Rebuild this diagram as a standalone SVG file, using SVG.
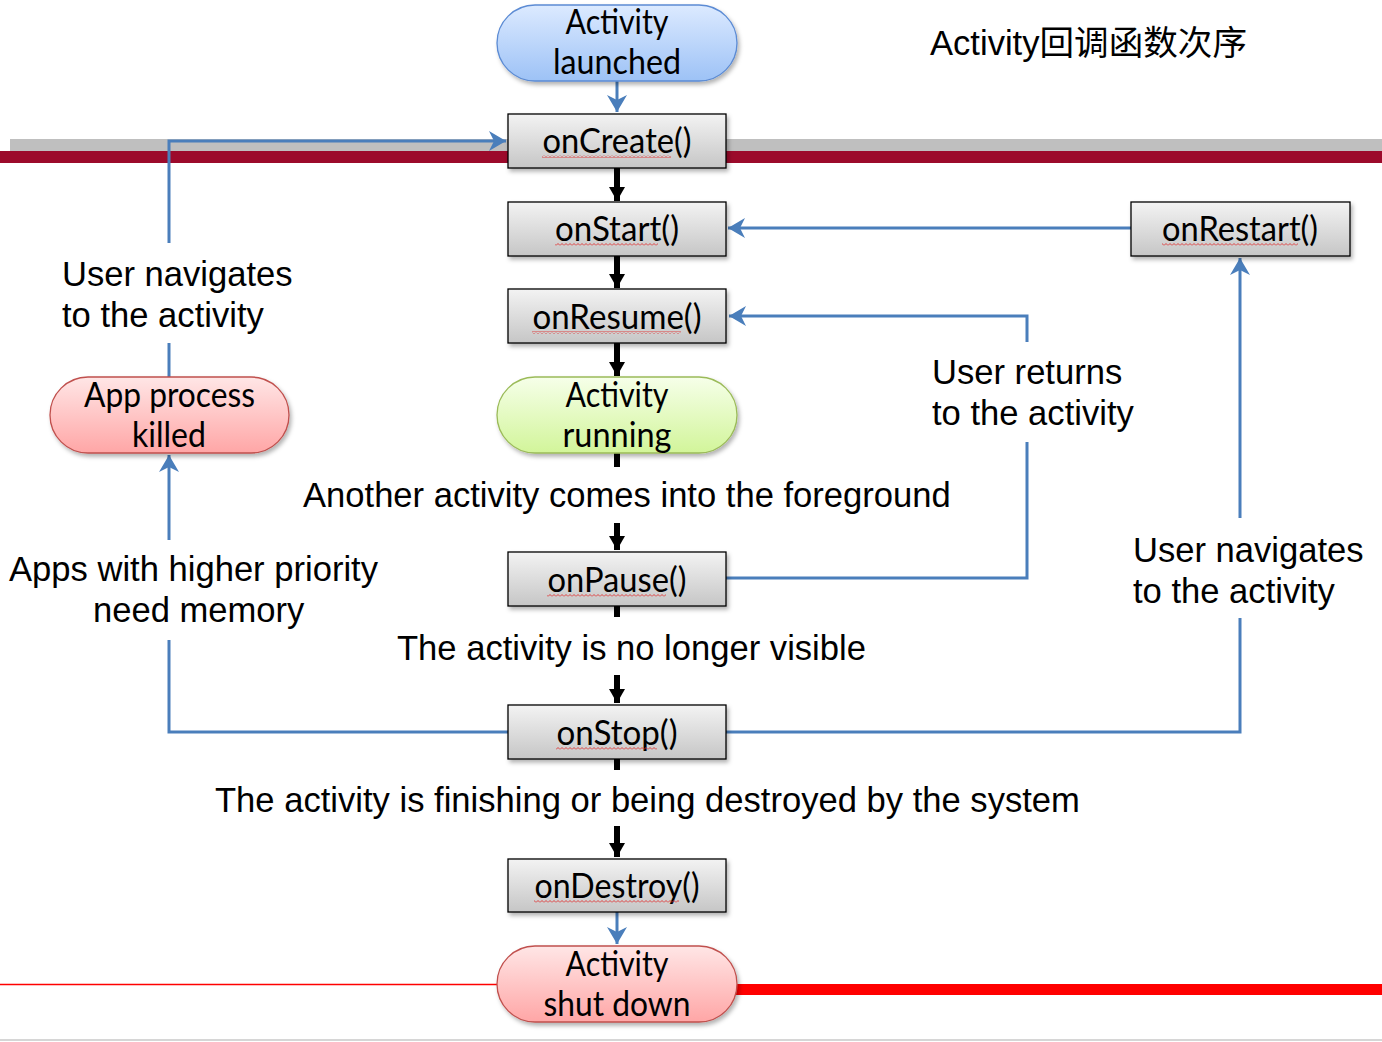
<svg xmlns="http://www.w3.org/2000/svg" width="1382" height="1042" viewBox="0 0 1382 1042">
<style>
.box{stroke:#000;stroke-width:1.3;fill:url(#gGray);filter:url(#sh)}
.pill{stroke-width:1.3;filter:url(#sh)}
.nt{font-family:Lato,"Open Sans",sans-serif;font-size:34px;fill:#000;text-anchor:middle}
.lt{font-family:"Liberation Sans",Arial,sans-serif;font-size:34.6px;fill:#000}
.blue{fill:none;stroke:#4A7EBB;stroke-width:3}
.blk{fill:none;stroke:#000;stroke-width:6}
.wavy{fill:url(#wv)}
</style>
<defs>
<linearGradient id="gGray" x1="0" y1="0" x2="0" y2="1"><stop offset="0" stop-color="#F3F3F3"/><stop offset="1" stop-color="#C6C6C6"/></linearGradient>
<linearGradient id="gBlue" x1="0" y1="0" x2="0" y2="1"><stop offset="0" stop-color="#DCEAFF"/><stop offset="1" stop-color="#9DC2F6"/></linearGradient>
<linearGradient id="gGreen" x1="0" y1="0" x2="0" y2="1"><stop offset="0" stop-color="#F6FFE9"/><stop offset="1" stop-color="#D2F59A"/></linearGradient>
<linearGradient id="gRed" x1="0" y1="0" x2="0" y2="1"><stop offset="0" stop-color="#FFE6E6"/><stop offset="1" stop-color="#FFA6A6"/></linearGradient>
<filter id="sh" x="-10%" y="-20%" width="125%" height="150%"><feDropShadow dx="2" dy="3" stdDeviation="2" flood-color="#000" flood-opacity="0.3"/></filter>
<pattern id="wv" width="4" height="3" patternUnits="userSpaceOnUse"><path d="M0,2.5 L2,0.5 L4,2.5" fill="none" stroke="#E03030" stroke-width="0.9"/></pattern>
<marker id="ab" markerUnits="userSpaceOnUse" viewBox="0 0 17 20" refX="17" refY="10" markerWidth="17" markerHeight="20" orient="auto"><path d="M0,0 L17,10 L0,20 L5,10 Z" fill="#4A7EBB"/></marker>
<marker id="ak" markerUnits="userSpaceOnUse" viewBox="0 0 14 16" refX="14" refY="8" markerWidth="14" markerHeight="16" orient="auto"><path d="M0,0 L14,8 L0,16 Z" fill="#000"/></marker>
</defs>
<rect width="1382" height="1042" fill="#fff"/>
<g id="bars">
<rect x="10" y="139" width="1372" height="12" fill="#BFBFBF"/>
<rect x="0" y="151" width="1382" height="12" fill="#9C0A2B"/>
<line x1="0" y1="984.5" x2="500" y2="984.5" stroke="#FF0000" stroke-width="1.5"/>
<rect x="735" y="984" width="647" height="11" fill="#FF0000"/>
<line x1="0" y1="1040" x2="1382" y2="1040" stroke="#C8C8C8" stroke-width="1.5"/>
</g>
<g id="connectors">
<path class="blue" d="M617,81 V112" marker-end="url(#ab)"/>
<path class="blue" d="M617,912 V944" marker-end="url(#ab)"/>
<path class="blk" d="M617,168 V201" marker-end="url(#ak)"/>
<path class="blk" d="M617,256 V288" marker-end="url(#ak)"/>
<path class="blk" d="M617,343 V376" marker-end="url(#ak)"/>
<path class="blk" d="M617,453 V467"/>
<path class="blk" d="M617,523 V550" marker-end="url(#ak)"/>
<path class="blk" d="M617,606 V617"/>
<path class="blk" d="M617,675 V703" marker-end="url(#ak)"/>
<path class="blk" d="M617,759 V770"/>
<path class="blk" d="M617,826 V857" marker-end="url(#ak)"/>
<path class="blue" d="M169,243 V141 H506" marker-end="url(#ab)"/>
<path class="blue" d="M169,343 V377"/>
<path class="blue" d="M508,732 H169 V640"/>
<path class="blue" d="M169,540 V455" marker-end="url(#ab)"/>
<path class="blue" d="M726,732 H1240 V618"/>
<path class="blue" d="M1240,518 V258" marker-end="url(#ab)"/>
<path class="blue" d="M1131,228 H728" marker-end="url(#ab)"/>
<path class="blue" d="M726,578 H1027 V442"/>
<path class="blue" d="M1027,342 V316 H729" marker-end="url(#ab)"/>
</g>
<g id="n-launched">
<rect class="pill" x="497" y="5" width="240" height="76" rx="38" fill="url(#gBlue)" stroke="#5B8BD4"/>
<text class="nt" x="617" y="34" textLength="103" lengthAdjust="spacingAndGlyphs">Activity</text>
<text class="nt" x="617" y="74" textLength="128" lengthAdjust="spacingAndGlyphs">launched</text>
</g>
<g id="n-oncreate">
<rect class="box" x="508" y="114" width="218" height="54"/>
<text class="nt" x="617" y="153" textLength="149" lengthAdjust="spacingAndGlyphs">onCreate()</text>
<rect class="wavy" x="542" y="155" width="129" height="3"/>
</g>
<g id="n-onstart">
<rect class="box" x="508" y="202" width="218" height="54"/>
<text class="nt" x="617" y="241" textLength="124" lengthAdjust="spacingAndGlyphs">onStart()</text>
<rect class="wavy" x="555" y="243" width="103" height="3"/>
</g>
<g id="n-onresume">
<rect class="box" x="508" y="289" width="218" height="54"/>
<text class="nt" x="617" y="329" textLength="169" lengthAdjust="spacingAndGlyphs">onResume()</text>
<rect class="wavy" x="532" y="331" width="149" height="3"/>
</g>
<g id="n-running">
<rect class="pill" x="497" y="377" width="240" height="76" rx="38" fill="url(#gGreen)" stroke="#9BBB59"/>
<text class="nt" x="617" y="407" textLength="103" lengthAdjust="spacingAndGlyphs">Activity</text>
<text class="nt" x="617" y="447" textLength="109" lengthAdjust="spacingAndGlyphs">running</text>
</g>
<g id="n-onpause">
<rect class="box" x="508" y="552" width="218" height="54"/>
<text class="nt" x="617" y="592" textLength="139" lengthAdjust="spacingAndGlyphs">onPause()</text>
<rect class="wavy" x="547" y="594" width="119" height="3"/>
</g>
<g id="n-onstop">
<rect class="box" x="508" y="705" width="218" height="54"/>
<text class="nt" x="617" y="745" textLength="121" lengthAdjust="spacingAndGlyphs">onStop()</text>
<rect class="wavy" x="556" y="747" width="101" height="3"/>
</g>
<g id="n-ondestroy">
<rect class="box" x="508" y="859" width="218" height="53"/>
<text class="nt" x="617" y="898" textLength="165" lengthAdjust="spacingAndGlyphs">onDestroy()</text>
<rect class="wavy" x="534" y="900" width="145" height="3"/>
</g>
<g id="n-shutdown">
<rect class="pill" x="497" y="946" width="240" height="76" rx="38" fill="url(#gRed)" stroke="#C0504D"/>
<text class="nt" x="617" y="976" textLength="103" lengthAdjust="spacingAndGlyphs">Activity</text>
<text class="nt" x="617" y="1016" textLength="147" lengthAdjust="spacingAndGlyphs">shut down</text>
</g>
<g id="n-onrestart">
<rect class="box" x="1131" y="202" width="219" height="54"/>
<text class="nt" x="1240" y="241" textLength="156" lengthAdjust="spacingAndGlyphs">onRestart()</text>
<rect class="wavy" x="1162" y="243" width="136" height="3"/>
</g>
<g id="n-killed">
<rect class="pill" x="50" y="377" width="239" height="76" rx="38" fill="url(#gRed)" stroke="#C0504D"/>
<text class="nt" x="169.5" y="407" textLength="171" lengthAdjust="spacingAndGlyphs">App process</text>
<text class="nt" x="169" y="447" textLength="74" lengthAdjust="spacingAndGlyphs">killed</text>
</g>
<g id="labels">
<text class="lt" x="930" y="55">Activity<tspan font-family="'Noto Sans CJK SC',sans-serif">回调函数次序</tspan></text>
<text class="lt" x="62" y="286">User navigates</text>
<text class="lt" x="62" y="327">to the activity</text>
<text class="lt" x="9" y="581">Apps with higher priority</text>
<text class="lt" x="93" y="622">need memory</text>
<text class="lt" x="932" y="384">User returns</text>
<text class="lt" x="932" y="425">to the activity</text>
<text class="lt" x="1133" y="562">User navigates</text>
<text class="lt" x="1133" y="603">to the activity</text>
<text class="lt" x="303" y="507">Another activity comes into the foreground</text>
<text class="lt" x="397" y="660">The activity is no longer visible</text>
<text class="lt" x="215" y="812">The activity is finishing or being destroyed by the system</text>
</g>
</svg>
